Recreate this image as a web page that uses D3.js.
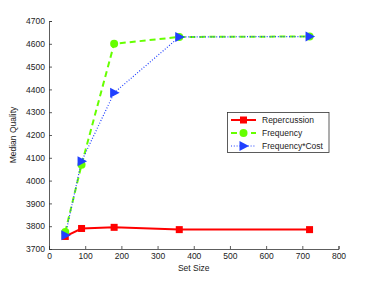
<!DOCTYPE html>
<html><head><meta charset="utf-8">
<script src="https://cdn.jsdelivr.net/npm/d3@7"></script>
<style>body{margin:0;background:#fff}svg{display:block}text{font-family:"Liberation Sans",Arial,sans-serif}</style>
</head><body>
<script>
const setSizes = [45, 90, 180, 360, 720];
const repercussion = [3755, 3790, 3795, 3785, 3785];
const frequency = [3775, 4070, 4600, 4630, 4632];
const frequencyCost = [3760, 4085, 4385, 4630, 4632];
const seriesNames = ["Repercussion", "Frequency", "Frequency*Cost"];
const xTicks = [0, 100, 200, 300, 400, 500, 600, 700, 800];
const yTicks = [3700, 3800, 3900, 4000, 4100, 4200, 4300, 4400, 4500, 4600, 4700];

const W = 374, H = 281;
const svg = d3.select("body").append("svg").attr("width", W).attr("height", H);
const x = d3.scaleLinear().domain([0, 800]).range([49, 338.5]);
const y = d3.scaleLinear().domain([3700, 4700]).range([249, 21]);

const fs = 8.5;
const xAxis = svg.append("g").attr("transform", `translate(0,${y(3700)})`)
  .call(d3.axisBottom(x).tickValues(xTicks).tickSize(-3).tickPadding(4));
const yAxis = svg.append("g").attr("transform", `translate(${x(0)},0)`)
  .call(d3.axisLeft(y).tickValues(yTicks).tickFormat(d3.format("d")).tickSize(-3).tickPadding(4));
[xAxis, yAxis].forEach(a => {
  a.selectAll("path.domain").attr("stroke", "#333").attr("stroke-width", 0.8);
  a.selectAll(".tick line").attr("stroke", "#333").attr("stroke-width", 0.8);
  a.selectAll("text").attr("font-size", fs).attr("fill", "#222").attr("font-family", '"Liberation Sans",Arial,sans-serif');
});
xAxis.selectAll("text").attr("dy", "0.75em");

svg.append("text").attr("x", x(400)).attr("y", 271).attr("text-anchor", "middle")
  .attr("font-size", fs).attr("fill", "#222").text("Set Size");
svg.append("text").attr("transform", `translate(16,${(y(3700)+y(4700))/2}) rotate(-90)`)
  .attr("text-anchor", "middle").attr("font-size", fs).attr("fill", "#222").text("Median Quality");

const series = [
  {name: seriesNames[0], vals: repercussion, color: "#ff0000", width: 2, dash: null, marker: "square"},
  {name: seriesNames[1], vals: frequency, color: "#66ff00", width: 2, dash: "6,4", marker: "circle"},
  {name: seriesNames[2], vals: frequencyCost, color: "#2040ff", width: 1.2, dash: "1,1.8", marker: "triangle"}
];
const line = d3.line().x(d => x(d[0])).y(d => y(d[1]));

function drawMarker(g, type, cx, cy, color) {
  if (type === "square") {
    g.append("rect").attr("x", cx - 3.5).attr("y", cy - 3.5).attr("width", 7).attr("height", 7).attr("fill", color);
  } else if (type === "circle") {
    g.append("circle").attr("cx", cx).attr("cy", cy).attr("r", 4).attr("fill", color);
  } else {
    g.append("path").attr("d", `M${cx-4},${cy-5}L${cx+5.5},${cy}L${cx-4},${cy+5}Z`).attr("fill", color);
  }
}

const plot = svg.append("g");
series.forEach(s => {
  const pts = setSizes.map((v, i) => [v, s.vals[i]]);
  plot.append("path").attr("d", line(pts)).attr("fill", "none").attr("stroke", s.color)
    .attr("stroke-width", s.width).attr("stroke-dasharray", s.dash);
});
series.forEach(s => {
  setSizes.forEach((v, i) => drawMarker(plot, s.marker, x(v), y(s.vals[i]), s.color));
});

// legend
const lg = svg.append("g");
lg.append("rect").attr("x", 227.5).attr("y", 112.5).attr("width", 101.5).attr("height", 40)
  .attr("fill", "#fff").attr("stroke", "#333").attr("stroke-width", 0.8);
series.forEach((s, i) => {
  const yy = 120 + i * 13;
  lg.append("line").attr("x1", 231).attr("x2", 256).attr("y1", yy).attr("y2", yy)
    .attr("stroke", s.color).attr("stroke-width", s.width).attr("stroke-dasharray", s.dash);
  drawMarker(lg, s.marker, 243.5, yy, s.color);
  lg.append("text").attr("x", 262).attr("y", yy).attr("dy", "0.35em").attr("font-size", fs)
    .attr("fill", "#222").text(s.name);
});
</script>
</body></html>
